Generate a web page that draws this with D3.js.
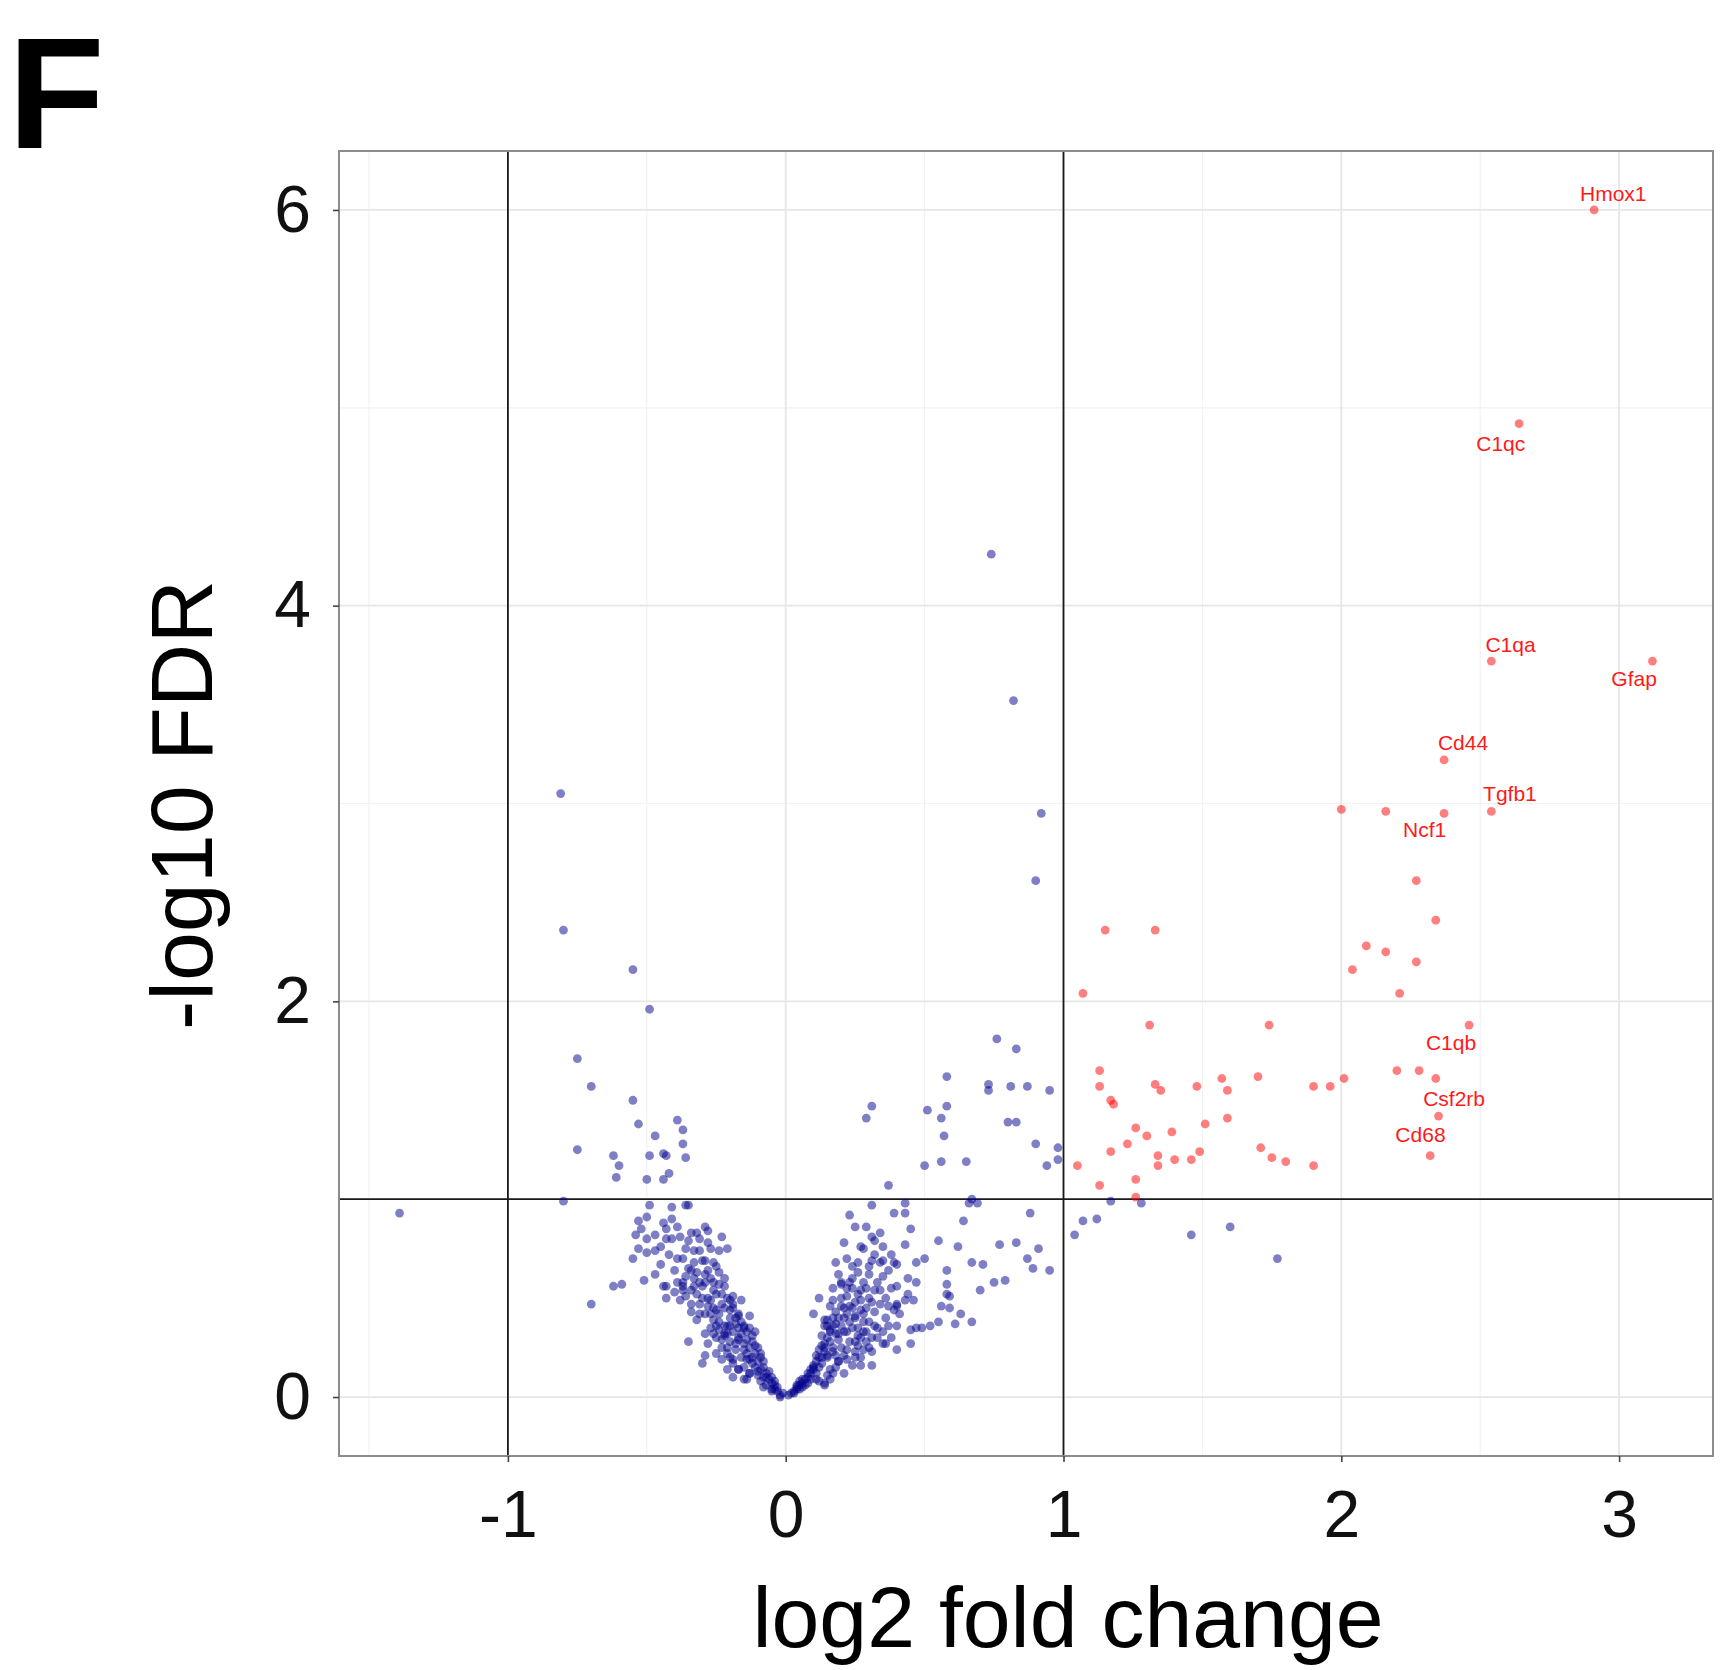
<!DOCTYPE html>
<html><head><meta charset="utf-8">
<script src="https://cdn.jsdelivr.net/npm/d3@7"></script>
<style>body{margin:0;background:#fff} svg{display:block}</style>
</head><body>
<script>
// ---------- data ----------
const xTicks = [-1, 0, 1, 2, 3];
const xMinor = [-1.5, -0.5, 0.5, 1.5, 2.5];
const yTicks = [0, 2, 4, 6];
const yMinor = [1, 3, 5];
const xDomain = [-1.608, 3.338];
const yDomain = [-0.298, 6.298];
const fcCut = [-1, 1];
const fdrCut = 1;

// significant, up-regulated genes (log2FC, -log10 FDR)
const upGenes = [
 [2.91,6.00],[2.64,4.92],[2.54,3.72],[3.12,3.72],[2.37,3.22],[2.54,2.96],[2.37,2.95],[2.16,2.96],[2.00,2.97],
 [2.27,2.61],[2.34,2.41],[2.09,2.28],[2.16,2.25],[2.27,2.20],[2.04,2.16],[2.21,2.04],[1.15,2.36],[1.33,2.36],
 [1.07,2.04],[1.31,1.88],[1.74,1.88],[2.46,1.88],[1.13,1.65],[1.13,1.57],[1.33,1.58],[1.35,1.55],[1.17,1.50],
 [1.18,1.48],[1.48,1.57],[1.57,1.61],[1.59,1.55],[1.70,1.62],[1.90,1.57],[1.96,1.57],[2.01,1.61],[2.20,1.65],
 [2.28,1.65],[2.34,1.61],[2.35,1.42],[2.32,1.22],[1.26,1.36],[1.30,1.32],[1.39,1.34],[1.51,1.38],[1.59,1.41],
 [1.23,1.28],[1.17,1.24],[1.34,1.22],[1.34,1.17],[1.40,1.20],[1.46,1.20],[1.49,1.24],[1.71,1.26],[1.75,1.21],
 [1.80,1.19],[1.90,1.17],[1.05,1.17],[1.13,1.07],[1.26,1.10],[1.26,1.01]
];

// all other genes
const otherGenes = [
 [0.74,4.26],[0.82,3.52],[-0.81,3.05],[0.92,2.95],[0.90,2.61],[-0.80,2.36],[-0.55,2.16],[-0.49,1.96],
 [-0.75,1.71],[-0.70,1.57],[-0.55,1.50],[-0.53,1.38],[-0.39,1.40],[-0.37,1.35],[-0.47,1.32],[-0.37,1.28],
 [-0.75,1.25],[-0.62,1.22],[-0.49,1.22],[-0.44,1.23],[-0.43,1.22],[-0.36,1.21],[-0.60,1.17],[-0.61,1.11],
 [-0.42,1.13],[-0.44,1.10],[-0.50,1.10],[-0.80,0.99],[-1.39,0.93],
 [0.76,1.81],[0.83,1.76],[0.58,1.62],[0.31,1.47],[0.29,1.41],[0.51,1.45],[0.58,1.47],[0.56,1.41],[0.57,1.32],
 [0.73,1.58],[0.73,1.55],[0.81,1.57],[0.87,1.57],[0.95,1.55],[0.80,1.39],[0.83,1.39],[0.90,1.28],[0.98,1.26],
 [0.98,1.20],[0.94,1.17],[0.50,1.17],[0.56,1.19],[0.65,1.19],[0.37,1.07],[0.31,0.97],[0.43,0.98],[0.67,1.00],
 [0.66,0.98],[0.69,0.98],
 [1.17,0.99],[1.07,0.89],[1.12,0.90],[1.04,0.82],[1.28,0.98],[1.46,0.82],[1.60,0.86],[1.77,0.70],
 [0.88,0.93],[0.64,0.89],[0.91,0.75],[0.87,0.70],[0.89,0.65],[0.95,0.64],[0.83,0.78],[0.77,0.77],
 [0.55,0.79],[0.62,0.76],[0.67,0.68],[0.71,0.67],[0.58,0.64],[0.58,0.57],[0.58,0.52],[0.59,0.51],[0.56,0.46],
 [0.59,0.45],[0.63,0.42],[0.67,0.38],[0.61,0.37],[0.55,0.38],[0.70,0.54],[0.75,0.58],[0.79,0.59],[0.52,0.36],
 [0.49,0.35],[0.47,0.35],[0.45,0.34],[0.45,0.27],[0.40,0.24],[0.36,0.27],[0.39,0.93],[0.43,0.93],
 [0.45,0.85],[0.43,0.77],[0.29,0.86],[0.34,0.83],[0.31,0.81],[0.27,0.76],[0.28,0.75],[0.39,0.68],[0.40,0.67],
 [0.47,0.68],[0.50,0.70],[0.44,0.60],[0.47,0.58],[0.44,0.52],[0.40,0.46],[0.30,0.66],[0.34,0.68],[0.26,0.63],
 [0.35,0.61],[0.32,0.79],[0.35,0.69],[0.31,0.69],[0.37,0.64],[0.40,0.56],[0.43,0.49],[0.39,0.44],[0.46,0.49],
 [0.20,0.57],[0.22,0.55],[0.24,0.55],[0.27,0.54],[0.29,0.55],[0.32,0.54],[0.34,0.54],[0.17,0.49],[0.20,0.46],
 [0.23,0.46],[0.27,0.49],[0.31,0.48],[0.34,0.47],[0.37,0.46],[0.40,0.47],[0.15,0.39],[0.18,0.37],[0.21,0.40],
 [0.25,0.41],[0.28,0.42],[0.32,0.36],[0.37,0.36],[0.41,0.42],[0.14,0.36],[0.16,0.34],[0.19,0.32],[0.22,0.33],
 [0.26,0.31],[0.29,0.33],[0.35,0.27],[0.14,0.25],[0.17,0.23],[0.21,0.21],[0.25,0.23],[0.28,0.24],[0.31,0.23],
 [0.15,0.20],[0.19,0.18],[0.22,0.19],[0.27,0.16],[0.31,0.16],[0.17,0.12],[0.14,0.07],[0.16,0.09],[0.25,0.20],
 [0.10,0.42],[0.12,0.50],[0.17,0.55],[0.19,0.62],[0.22,0.70],[0.24,0.66],[0.21,0.78],[0.25,0.86],[0.17,0.40],
 [0.20,0.58],[0.23,0.92],[0.18,0.68],
 [0.02,0.02],[0.04,0.04],[0.05,0.06],[0.07,0.09],[0.09,0.12],[0.10,0.15],[0.11,0.18],[0.13,0.20],[0.14,0.27],
 [0.15,0.36],[0.16,0.46],[0.14,0.39],[0.13,0.31],[0.12,0.24],[0.10,0.14],[0.08,0.10],[0.06,0.07],[0.04,0.05],
 [0.11,0.09],[0.14,0.06],
 [0.03,0.03],[0.04,0.06],[0.05,0.04],[0.06,0.09],[0.07,0.06],[0.08,0.12],[0.09,0.09],[0.10,0.16],[0.11,0.12],
 [0.12,0.20],[0.13,0.17],[0.14,0.23],[0.15,0.21],[0.16,0.28],[0.17,0.25],[0.18,0.32],[0.19,0.29],[0.20,0.36],
 [0.21,0.33],[0.22,0.42],[0.23,0.38],[0.24,0.45],[0.25,0.48],[0.26,0.52],[0.16,0.14],[0.19,0.18],[0.22,0.24],
 [0.25,0.28],[0.28,0.33],[0.30,0.38],[0.32,0.43],[0.21,0.12],[0.24,0.16],[0.27,0.20],[0.30,0.25],[0.33,0.30],
 [0.36,0.40],[0.38,0.30],[0.40,0.36],[0.28,0.58],[0.30,0.62],[0.26,0.68],[0.32,0.72],
 [0.01,0.01],[0.03,0.02],[0.05,0.08],[0.06,0.05],[0.08,0.07],[0.09,0.14],[0.11,0.21],[0.12,0.15],[0.13,0.26],
 [0.15,0.30],[0.16,0.33],[0.17,0.36],[0.18,0.43],[0.19,0.40],[0.20,0.50],[0.21,0.45],[0.22,0.51],[0.23,0.58],
 [0.24,0.60],[0.25,0.40],[0.26,0.35],[0.27,0.44],[0.28,0.38],[0.29,0.45],[0.30,0.50],[0.31,0.30],[0.33,0.35],
 [0.35,0.33],[0.18,0.21],[0.20,0.25],[0.23,0.28],[0.26,0.26],[0.29,0.28],[0.18,0.15],[0.15,0.11],[0.12,0.08],
 [0.24,0.35],[0.27,0.30],[0.36,0.50],[0.38,0.55],[0.33,0.58],[0.35,0.76],[0.38,0.72],
 [-0.02,0.01],[-0.04,0.04],[-0.05,0.07],[-0.07,0.10],[-0.08,0.15],[-0.09,0.20],[-0.10,0.25],[-0.12,0.31],
 [-0.13,0.12],[-0.15,0.15],[-0.14,0.09],[-0.08,0.05],[-0.09,0.08],[-0.05,0.03],[-0.02,0.00],[-0.13,0.19],
 [-0.11,0.33],[-0.15,0.36],[-0.13,0.41],[-0.17,0.41],
 [-0.20,0.44],[-0.17,0.42],[-0.25,0.44],[-0.27,0.49],[-0.22,0.56],[-0.19,0.51],[-0.16,0.49],[-0.21,0.32],
 [-0.23,0.29],[-0.26,0.32],[-0.25,0.22],[-0.23,0.19],[-0.19,0.19],[-0.17,0.14],[-0.19,0.10],[-0.15,0.09],
 [-0.29,0.32],[-0.32,0.39],[-0.37,0.54],[-0.38,0.49],[-0.32,0.63],[-0.29,0.69],[-0.25,0.66],
 [-0.03,0.03],[-0.04,0.06],[-0.05,0.04],[-0.06,0.09],[-0.07,0.06],[-0.07,0.12],[-0.08,0.10],[-0.09,0.14],
 [-0.10,0.11],[-0.10,0.18],[-0.11,0.15],[-0.11,0.22],[-0.12,0.20],[-0.13,0.25],[-0.14,0.22],[-0.14,0.29],
 [-0.15,0.27],[-0.16,0.32],[-0.17,0.30],[-0.18,0.37],[-0.19,0.33],[-0.20,0.40],[-0.21,0.36],[-0.16,0.20],
 [-0.18,0.24],[-0.20,0.28],[-0.22,0.32],[-0.24,0.38],[-0.17,0.14],[-0.19,0.17],[-0.21,0.22],[-0.23,0.25],
 [-0.25,0.30],[-0.27,0.35],[-0.29,0.42],[-0.31,0.47],[-0.26,0.45],[-0.28,0.50],[-0.30,0.56],[-0.23,0.47],
 [-0.25,0.52],[-0.33,0.60],[-0.35,0.65],[-0.21,0.50],[-0.19,0.45],
 [-0.41,0.90],[-0.44,0.88],[-0.38,0.81],[-0.35,0.79],[-0.31,0.80],[-0.27,0.75],[-0.37,0.70],[-0.33,0.68],
 [-0.29,0.62],[-0.31,0.58],[-0.27,0.60],[-0.24,0.57],[-0.22,0.60],[-0.40,0.64],[-0.42,0.72],[-0.45,0.67],
 [-0.36,0.61],[-0.33,0.56],[-0.30,0.50],[-0.28,0.46],[-0.24,0.42],[-0.22,0.45],[-0.18,0.40],[-0.16,0.38],
 [-0.14,0.33],[-0.12,0.28],[-0.11,0.26],[-0.09,0.22],[-0.08,0.18],[-0.06,0.13],[-0.05,0.10],[-0.04,0.08],
 [-0.03,0.05],[-0.01,0.02],[-0.12,0.17],[-0.10,0.13],[-0.18,0.27],[-0.24,0.34],[-0.26,0.39],[-0.34,0.47],
 [-0.36,0.51],[-0.40,0.53],[-0.47,0.62],[-0.55,0.70],[-0.45,0.76],[-0.47,0.82],[-0.52,0.85],
 [-0.49,0.97],[-0.41,0.96],[-0.36,0.97],[-0.35,0.97],[-0.53,0.89],[-0.50,0.91],[-0.54,0.82],[-0.50,0.80],
 [-0.53,0.75],[-0.50,0.73],[-0.47,0.74],[-0.43,0.85],[-0.39,0.86],[-0.43,0.80],[-0.41,0.80],[-0.39,0.70],
 [-0.34,0.83],[-0.32,0.83],[-0.29,0.86],[-0.28,0.84],[-0.28,0.78],[-0.23,0.81],[-0.21,0.75],[-0.24,0.74],
 [-0.36,0.75],[-0.33,0.74],[-0.31,0.74],[-0.30,0.69],[-0.26,0.68],[-0.34,0.64],[-0.28,0.64],[-0.24,0.63],
 [-0.51,0.59],[-0.62,0.56],[-0.59,0.57],[-0.70,0.47],[-0.44,0.56],[-0.43,0.56],[-0.43,0.50],[-0.39,0.58],
 [-0.37,0.56],[-0.37,0.58],[-0.34,0.54],[-0.32,0.52],[-0.29,0.58],[-0.26,0.58],[-0.26,0.54],[-0.23,0.52],
 [-0.20,0.49],[-0.19,0.47],[-0.34,0.43],[-0.31,0.42],[-0.27,0.42],[-0.25,0.36],[-0.22,0.36],[-0.20,0.36],
 [-0.17,0.35],[-0.15,0.35],[-0.13,0.35],[-0.35,0.28],[-0.28,0.27],[-0.29,0.21],[-0.30,0.17],[-0.22,0.31],
 [-0.21,0.25],[-0.20,0.20],[-0.21,0.14],[-0.17,0.29],[-0.15,0.24],[-0.14,0.19],[-0.13,0.12]
];

const labelGenes = ["Hmox1","C1qc","C1qa","Gfap","Cd44","Tgfb1","Ncf1","C1qb","Csf2rb","Cd68"];
const labelX = [2.979, 2.574, 2.609, 3.054, 2.438, 2.607, 2.300, 2.395, 2.406, 2.285];
const labelY = [6.085, 4.821, 3.805, 3.630, 3.308, 3.052, 2.867, 1.791, 1.510, 1.329];

// ---------- chart ----------
const W = 1724, H = 1670;
const panel = {left: 339, right: 1713, top: 151, bottom: 1456};
const font = "'Liberation Sans', Arial, Helvetica, sans-serif";

const svg = d3.select("body").append("svg").attr("width", W).attr("height", H)
  .style("font-family", font);

const x = d3.scaleLinear().domain(xDomain).range([panel.left, panel.right]);
const y = d3.scaleLinear().domain(yDomain).range([panel.bottom, panel.top]);

svg.append("defs").append("clipPath").attr("id", "clip")
  .append("rect").attr("x", panel.left).attr("y", panel.top)
  .attr("width", panel.right - panel.left).attr("height", panel.bottom - panel.top);

// panel label
svg.append("text").attr("x", 8).attr("y", 148).text("F")
  .style("font-size", "158px").style("font-weight", "bold").attr("fill", "#000");

const g = svg.append("g").attr("clip-path", "url(#clip)");

// grid
g.selectAll(".xminor").data(xMinor).join("line")
  .attr("x1", d => x(d)).attr("x2", d => x(d)).attr("y1", panel.top).attr("y2", panel.bottom)
  .attr("stroke", "#f2f2f2").attr("stroke-width", 1.2);
g.selectAll(".yminor").data(yMinor).join("line")
  .attr("y1", d => y(d)).attr("y2", d => y(d)).attr("x1", panel.left).attr("x2", panel.right)
  .attr("stroke", "#f2f2f2").attr("stroke-width", 1.2);
g.selectAll(".xmajor").data(xTicks).join("line")
  .attr("x1", d => x(d)).attr("x2", d => x(d)).attr("y1", panel.top).attr("y2", panel.bottom)
  .attr("stroke", "#e6e6e6").attr("stroke-width", 1.8);
g.selectAll(".ymajor").data(yTicks).join("line")
  .attr("y1", d => y(d)).attr("y2", d => y(d)).attr("x1", panel.left).attr("x2", panel.right)
  .attr("stroke", "#e6e6e6").attr("stroke-width", 1.8);

// threshold lines
g.selectAll(".vcut").data(fcCut).join("line")
  .attr("x1", d => x(d)).attr("x2", d => x(d)).attr("y1", panel.top).attr("y2", panel.bottom)
  .attr("stroke", "#1a1a1a").attr("stroke-width", 1.8);
g.append("line").attr("x1", panel.left).attr("x2", panel.right)
  .attr("y1", y(fdrCut)).attr("y2", y(fdrCut))
  .attr("stroke", "#1a1a1a").attr("stroke-width", 1.8);

// points
g.selectAll(".other").data(otherGenes).join("circle")
  .attr("cx", d => x(d[0])).attr("cy", d => y(d[1])).attr("r", 4.4)
  .attr("fill", "darkblue").attr("fill-opacity", 0.5);
g.selectAll(".up").data(upGenes).join("circle")
  .attr("cx", d => x(d[0])).attr("cy", d => y(d[1])).attr("r", 4.4)
  .attr("fill", "red").attr("fill-opacity", 0.5);

// labels
g.selectAll(".lab").data(labelGenes).join("text")
  .attr("x", (d, i) => x(labelX[i])).attr("y", (d, i) => y(labelY[i]))
  .attr("text-anchor", "middle").attr("dominant-baseline", "central")
  .style("font-size", "21px").attr("fill", "#ff1a1a").text(d => d);

// panel border
svg.append("rect").attr("x", panel.left).attr("y", panel.top)
  .attr("width", panel.right - panel.left).attr("height", panel.bottom - panel.top)
  .attr("fill", "none").attr("stroke", "#8c8c8c").attr("stroke-width", 2);

// axes
const xAxis = svg.append("g").attr("transform", `translate(0,${panel.bottom})`)
  .call(d3.axisBottom(x).tickValues(xTicks).tickSize(6).tickPadding(28).tickFormat(d3.format("d")));
const yAxis = svg.append("g").attr("transform", `translate(${panel.left},0)`)
  .call(d3.axisLeft(y).tickValues(yTicks).tickSize(6).tickPadding(22).tickFormat(d3.format("d")));
[xAxis, yAxis].forEach(a => {
  a.select(".domain").remove();
  a.selectAll(".tick line").attr("stroke", "#444").attr("stroke-width", 1.6);
  a.selectAll(".tick text").attr("fill", "#111").style("font-size", "66px").style("font-family", font);
});
xAxis.selectAll(".tick text").text(d => d < 0 ? "-" + Math.abs(d) : d);

// axis titles
svg.append("text").attr("x", 1068).attr("y", 1647).attr("text-anchor", "middle")
  .style("font-size", "86px").attr("fill", "#000").text("log2 fold change");
svg.append("text").attr("transform", "translate(212,805) rotate(-90)").attr("text-anchor", "middle")
  .style("font-size", "88px").attr("fill", "#000").text("-log10 FDR");
</script>
</body></html>
